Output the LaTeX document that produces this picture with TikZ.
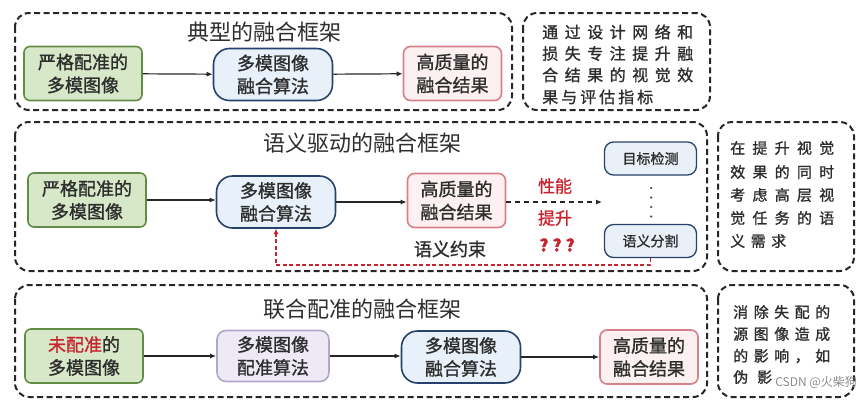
\documentclass[tikz,border=0pt]{standalone}
\usepackage{fontspec}
\setmainfont{Noto Sans CJK SC}
\newfontfamily\heavy{Noto Sans CJK SC}[FakeBold=1.2]
\usetikzlibrary{arrows.meta}
\definecolor{gfill}{RGB}{214,232,200}
\definecolor{gdraw}{RGB}{98,140,70}
\definecolor{bfill}{RGB}{232,240,249}
\definecolor{bdraw}{RGB}{38,66,108}
\definecolor{pfill}{RGB}{252,240,240}
\definecolor{pdraw}{RGB}{214,128,138}
\definecolor{vfill}{RGB}{237,233,245}
\definecolor{vdraw}{RGB}{178,168,198}
\definecolor{dfill}{RGB}{233,240,248}
\definecolor{redc}{RGB}{200,36,48}
\definecolor{txt}{RGB}{45,45,45}
\newcommand\sprd[2]{\makebox[#1][s]{#2}}
\begin{document}
\begin{tikzpicture}[x=1pt,y=-1pt,
  panel/.style={draw=black!85, line width=2pt, dash pattern=on 6pt off 3.5pt, rounded corners=14pt},
  boxbase/.style={line width=1.6pt, align=center, inner sep=0pt, text=txt,
     font=\heavy\fontsize{18}{23}\selectfont},
  greenbox/.style={boxbase, draw=gdraw, fill=gfill, rounded corners=6pt, minimum width=118pt, minimum height=54pt},
  bluebox/.style={boxbase, draw=bdraw, fill=bfill, rounded corners=16pt, minimum width=119pt, minimum height=52pt},
  pinkbox/.style={boxbase, draw=pdraw, fill=pfill, rounded corners=7pt, minimum width=98pt, minimum height=54pt},
  violetbox/.style={boxbase, draw=vdraw, fill=vfill, rounded corners=9pt, minimum width=112pt, minimum height=51pt},
  taskbox/.style={boxbase, draw=bdraw, fill=dfill, line width=1.3pt, rounded corners=9pt, minimum width=92pt, minimum height=33pt, font=\heavy\fontsize{14}{16}\selectfont},
  title/.style={text=txt, inner sep=0pt, font=\fontsize{22}{24}\selectfont},
  note/.style={text=txt, inner sep=0pt, anchor=west},
  arr/.style={line width=1.2pt, black!85, -{Latex[length=6pt,width=5pt]}},
  dotc/.style={circle, fill=black!70, inner sep=0pt, minimum size=2.5pt}
]
\useasboundingbox (0,0) rectangle (864,400);

% ---------- panel 1 ----------
\draw[panel] (15,13) rectangle (512,110);
\draw[panel] (523,13) rectangle (710,110);
\node[title] (t1) at (264,32) {典型的融合框架};
\node[greenbox] (a1) at (83,73.5) {严格配准的\\多模图像};
\node[bluebox] (b1) at (273,74.5) {多模图像\\融合算法};
\node[pinkbox] (c1) at (452.5,73.5) {高质量的\\融合结果};
\draw[arr] (a1) -- (b1);
\draw[arr] (b1) -- (c1);
\begin{scope}[every node/.style={note, font=\heavy\fontsize{16}{18}\selectfont}]
\node (n11) at (542,32) {\sprd{151pt}{通\hfill 过\hfill 设\hfill 计\hfill 网\hfill 络\hfill 和}};
\node (n12) at (542,53.5) {\sprd{151pt}{损\hfill 失\hfill 专\hfill 注\hfill 提\hfill 升\hfill 融}};
\node (n13) at (542,75) {\sprd{151pt}{合\hfill 结\hfill 果\hfill 的\hfill 视\hfill 觉\hfill 效}};
\node (n14) at (542,97) {\sprd{111pt}{果\hfill 与\hfill 评\hfill 估\hfill 指\hfill 标}};
\end{scope}

% ---------- panel 2 ----------
\draw[panel] (15,122) rectangle (707,271);
\draw[panel] (718,122) rectangle (854,271);
\node[title] (t2) at (362,143) {语义驱动的融合框架};
\node[greenbox] (a2) at (87,200) {严格配准的\\多模图像};
\node[bluebox] (b2) at (276,202) {多模图像\\融合算法};
\node[pinkbox] (c2) at (456.5,200.5) {高质量的\\融合结果};
\node[taskbox] (d1) at (650.5,158.5) {目标检测};
\node[taskbox] (d2) at (650.5,241) {语义分割};
\coordinate (tgt) at (602,202);
\draw[arr] (a2) -- (a2 -| b2.west);
\draw[arr] (b2) -- (b2 -| c2.west);
\draw[line width=1.2pt, black!85, dash pattern=on 5pt off 4pt, -{Latex[length=6pt,width=5pt]}] (c2.east |- tgt) -- (tgt);
\node[text=redc, inner sep=0pt, font=\heavy\fontsize{17}{19}\selectfont] (pf1) at (555,186) {性能};
\node[text=redc, inner sep=0pt, font=\heavy\fontsize{17}{19}\selectfont] (pf2) at (555,218) {提升};
\node[text=redc, inner sep=0pt, font=\heavy\bfseries\fontsize{17}{19}\selectfont] (pf3) at (557,245) {?\hspace{4pt}?\hspace{4pt}?};
\node[dotc] (p1) at (651,188) {};
\node[dotc] (p2) at (651,197.5) {};
\node[dotc] (p3) at (651,207) {};
\node[dotc] (p4) at (651,216.5) {};
\coordinate (rc) at (650.5,265);
\draw[redc, line width=1.5pt, dash pattern=on 4pt off 2.5pt, -{Latex[length=5pt,width=5pt]}] (d2.south) -- (rc) -| (b2.south);
\node[text=txt, inner sep=0pt, font=\heavy\fontsize{18}{20}\selectfont] (sy) at (450,249) {语义约束};
\begin{scope}[every node/.style={note, font=\heavy\fontsize{15}{17}\selectfont}]
\node (n21) at (730,148) {\sprd{104pt}{在\hfill 提\hfill 升\hfill 视\hfill 觉}};
\node (n22) at (730,172) {\sprd{104pt}{效\hfill 果\hfill 的\hfill 同\hfill 时}};
\node (n23) at (730,195) {\sprd{104pt}{考\hfill 虑\hfill 高\hfill 层\hfill 视}};
\node (n24) at (730,218) {\sprd{104pt}{觉\hfill 任\hfill 务\hfill 的\hfill 语}};
\node (n25) at (730,241) {\sprd{56pt}{义\hfill 需\hfill 求}};
\end{scope}

% ---------- panel 3 ----------
\draw[panel] (15,285) rectangle (707,397);
\draw[panel] (718,285) rectangle (854,397);
\node[title] (t3) at (362,309) {联合配准的融合框架};
\node[greenbox] (a3) at (84,356) {{\color{redc}未配准}的\\多模图像};
\node[violetbox] (b3) at (273,356) {多模图像\\配准算法};
\node[bluebox] (c3) at (461,357) {多模图像\\融合算法};
\node[pinkbox] (d3) at (649,357) {高质量的\\融合结果};
\draw[arr] (a3) -- (a3 -| b3.west);
\draw[arr] (b3) -- (b3 -| c3.west);
\draw[arr] (c3) -- (c3 -| d3.west);
\begin{scope}[every node/.style={note, font=\heavy\fontsize{15}{17}\selectfont}]
\node (n31) at (733,312) {\sprd{97pt}{消\hfill 除\hfill 失\hfill 配\hfill 的}};
\node (n32) at (733,334) {\sprd{97pt}{源\hfill 图\hfill 像\hfill 造\hfill 成}};
\node (n33) at (733,356) {\sprd{97pt}{的\hfill 影\hfill 响\hfill ，\hfill 如}};
\node (n34) at (733,377) {\sprd{39pt}{伪\hfill 影}};
\end{scope}
\node[anchor=east, inner sep=0pt, text=black!45, font=\fontsize{12}{14}\selectfont] (wm) at (857,382) {CSDN @火柴狗};
\end{tikzpicture}
\end{document}
